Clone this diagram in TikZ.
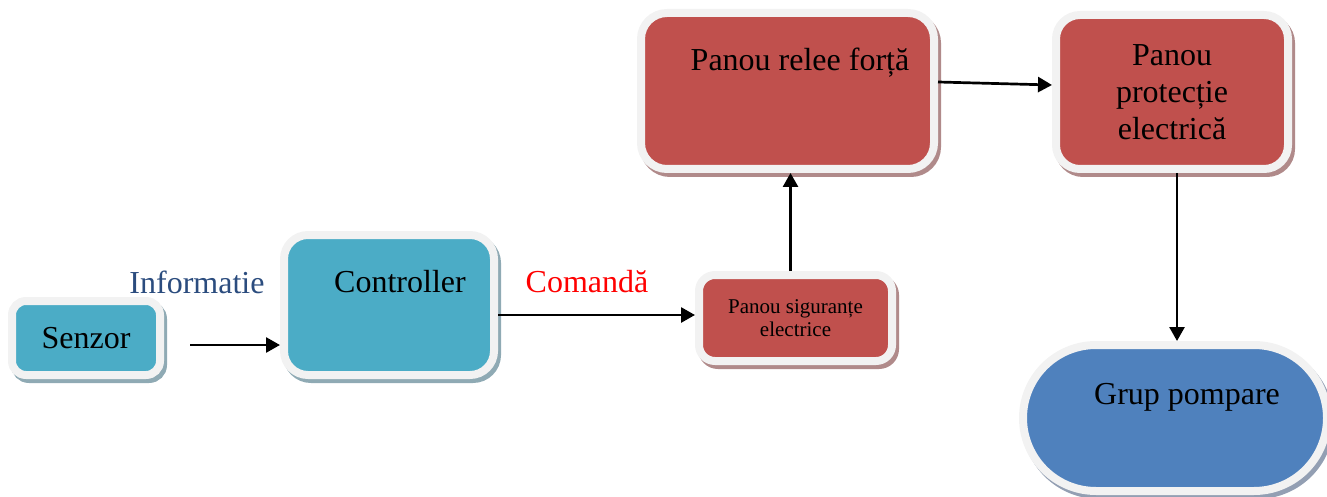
\documentclass[tikz,border=0pt]{standalone}
\usepackage{fontspec}
\setmainfont{Liberation Serif}
\usetikzlibrary{arrows.meta}

\definecolor{aqua}{HTML}{4BACC6}
\definecolor{brick}{HTML}{C0504D}
\definecolor{steel}{HTML}{4F81BD}
\definecolor{framegray}{HTML}{F2F2F2}
\definecolor{aquashadow}{HTML}{8FAAB4}
\definecolor{brickshadow}{HTML}{B08A8A}
\definecolor{steelshadow}{HTML}{939FB3}
\definecolor{infoblue}{HTML}{2B4C7E}

\newcommand{\bigtext}{\fontsize{32}{37}\selectfont}
\newcommand{\smalltext}{\fontsize{21}{23}\selectfont}

\begin{document}
\begin{tikzpicture}[x=1pt, y=-1pt,
  panel/.style={draw=framegray, line width=8pt, inner sep=0pt, align=center,
    font=\bigtext, text=black},
  aquabox/.style={panel, fill=aqua,
    preaction={draw=aquashadow, line width=8pt, transform canvas={xshift=3pt, yshift=-4pt}}},
  brickbox/.style={panel, fill=brick,
    preaction={draw=brickshadow, line width=8pt, transform canvas={xshift=3pt, yshift=-4pt}}},
  steelbox/.style={panel, fill=steel,
    preaction={draw=steelshadow, line width=8pt, transform canvas={xshift=3pt, yshift=-4pt}}},
  flow/.style={line width=2.7pt, -{Triangle[length=14pt, width=15pt]}},
  caption/.style={font=\bigtext, inner sep=0pt}
]
\useasboundingbox (0,0) rectangle (1327,497);

% blocks
\node[aquabox, rounded corners=14pt, minimum width=148pt, minimum height=74pt]
  (senzor) at (86,338) {Senzor};
\node[aquabox, rounded corners=24pt, minimum width=210pt, minimum height=140pt,
  label={[font=\bigtext, inner sep=0pt, xshift=11pt, yshift=23pt]center:Controller}]
  (controller) at (389,305) {};
\node[brickbox, rounded corners=16pt, minimum width=193pt, minimum height=86pt, font=\smalltext]
  (sigurante) at (795.5,318) {Panou siguranțe\\electrice};
\node[brickbox, rounded corners=26pt, minimum width=293pt, minimum height=156pt,
  label={[font=\bigtext, inner sep=0pt, xshift=12.5pt, yshift=28pt]center:Panou relee forță}]
  (relee) at (787.5,91) {};
\node[brickbox, rounded corners=24pt, minimum width=232pt, minimum height=154pt]
  (protectie) at (1172,92) {Panou\\protecție\\electrică};
\node[steelbox, rounded corners=73pt, minimum width=304pt, minimum height=146pt,
  label={[font=\bigtext, inner sep=0pt, xshift=12pt, yshift=21pt]center:Grup pompare}]
  (pompare) at (1175,418) {};

% signal labels
\node[caption, text=infoblue] (informatie) at (197,282) {Informatie};
\node[caption, text=red] (comanda) at (587,282) {Comandă};

% connectors
\coordinate (senzorout) at (190,345);
\draw[flow] (senzorout) -- (senzorout -| controller.west);
\draw[flow] ([yshift=-10pt]controller.east) -- ([yshift=-10pt]controller.east -| sigurante.west);
\draw[flow] ([xshift=-5pt]sigurante.north) -- ([xshift=-5pt]sigurante.north |- relee.south);
\draw[flow] ([yshift=9pt]relee.east) -- ([yshift=7pt]protectie.west);
\draw[flow] ([xshift=5pt]protectie.south) -- ([xshift=5pt]protectie.south |- pompare.north);
\end{tikzpicture}
\end{document}
